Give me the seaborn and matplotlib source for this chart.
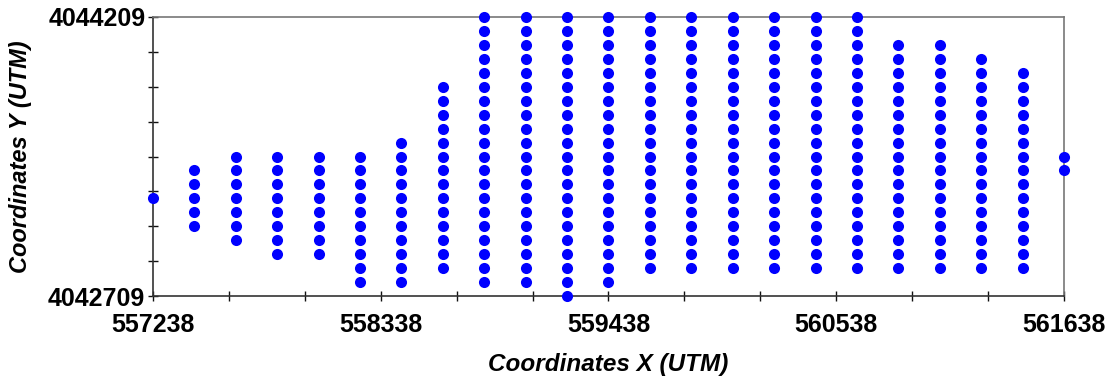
import matplotlib
matplotlib.use("Agg")
import matplotlib.pyplot as plt
import seaborn as sns
import pandas as pd
from matplotlib.ticker import FixedLocator

# ---- data ----
x_columns = [557238, 557438, 557638, 557838, 558038, 558238, 558438, 558638,
             558838, 559038, 559238, 559438, 559638, 559838, 560038, 560238,
             560438, 560638, 560838, 561038, 561238, 561438, 561638]
y_levels = [4042709, 4042784, 4042859, 4042934, 4043009, 4043084, 4043159,
            4043234, 4043309, 4043384, 4043459, 4043534, 4043609, 4043684,
            4043759, 4043834, 4043909, 4043984, 4044059, 4044134, 4044209]
# lowest and highest y level index of the samples in each column
col_first_level = [7, 5, 4, 3, 3, 1, 1, 2, 1, 1, 0, 1, 2, 2, 2, 2, 2, 2, 2, 2, 2, 2, 9]
col_last_level = [7, 9, 10, 10, 10, 10, 11, 15, 20, 20, 20, 20, 20, 20, 20, 20,
                  20, 20, 18, 18, 17, 16, 10]

x_major_ticks = [557238, 558338, 559438, 560538, 561638]
y_major_ticks = [4042709, 4044209]

xs, ys = [], []
for x, lo, hi in zip(x_columns, col_first_level, col_last_level):
    for y in y_levels[lo:hi + 1]:
        xs.append(x)
        ys.append(y)
df = pd.DataFrame({"x": xs, "y": ys})

sns.set_style("white")
plt.rcParams["font.family"] = ["Liberation Sans", "DejaVu Sans"]
plt.rcParams["text.color"] = "black"
plt.rcParams["axes.labelcolor"] = "black"
plt.rcParams["xtick.color"] = "black"
plt.rcParams["ytick.color"] = "black"

fig = plt.figure(figsize=(11.1, 3.76), dpi=100)
ax = fig.add_axes([153 / 1110, 1 - 296 / 376, (1064 - 153) / 1110, (296 - 17) / 376])

sns.scatterplot(data=df, x="x", y="y", ax=ax, color="#0000FF", s=64,
                linewidth=0, clip_on=False, zorder=3, legend=False)

ax.set_xlim(x_major_ticks[0], x_major_ticks[-1])
ax.set_ylim(y_major_ticks[0], y_major_ticks[-1])

ax.xaxis.set_major_locator(FixedLocator(x_major_ticks))
x_minor = []
for a, b in zip(x_major_ticks[:-1], x_major_ticks[1:]):
    step = (b - a) / 3
    x_minor += [a + step, a + 2 * step]
ax.xaxis.set_minor_locator(FixedLocator(x_minor))
ax.yaxis.set_major_locator(FixedLocator(y_major_ticks))
ystep = (y_major_ticks[1] - y_major_ticks[0]) / 8
ax.yaxis.set_minor_locator(FixedLocator([y_major_ticks[0] + ystep * i for i in range(1, 8)]))

ax.set_xticklabels([str(v) for v in x_major_ticks], fontsize=18, fontweight="bold",
                   color="black")
ax.set_yticklabels([str(v) for v in y_major_ticks], fontsize=18, fontweight="bold",
                   color="black")

ax.tick_params(axis="both", which="both", direction="inout", length=7, width=1,
               color="#111111", left=True, bottom=True)
ax.tick_params(axis="x", which="major", pad=9)
ax.tick_params(axis="y", which="major", pad=2)

for side in ["left", "bottom"]:
    ax.spines[side].set_color("#333333")
    ax.spines[side].set_linewidth(1.2)
for side in ["top", "right"]:
    ax.spines[side].set_color("#777777")
    ax.spines[side].set_linewidth(1.2)

ax.set_xlabel("Coordinates X (UTM)", fontsize=17.5, fontweight="bold", style="italic",
              color="black")
ax.set_ylabel("Coordinates Y (UTM)", fontsize=17, fontweight="bold", style="italic",
              color="black")
ax.xaxis.set_label_coords(0.5, -(364 - 296) / (296 - 17))
ax.yaxis.set_label_coords(-(153 - 21) / (1064 - 153), 0.5)
ax.xaxis.label.set_va("center")
ax.yaxis.label.set_va("center")

fig.savefig("out.png", dpi=100)
